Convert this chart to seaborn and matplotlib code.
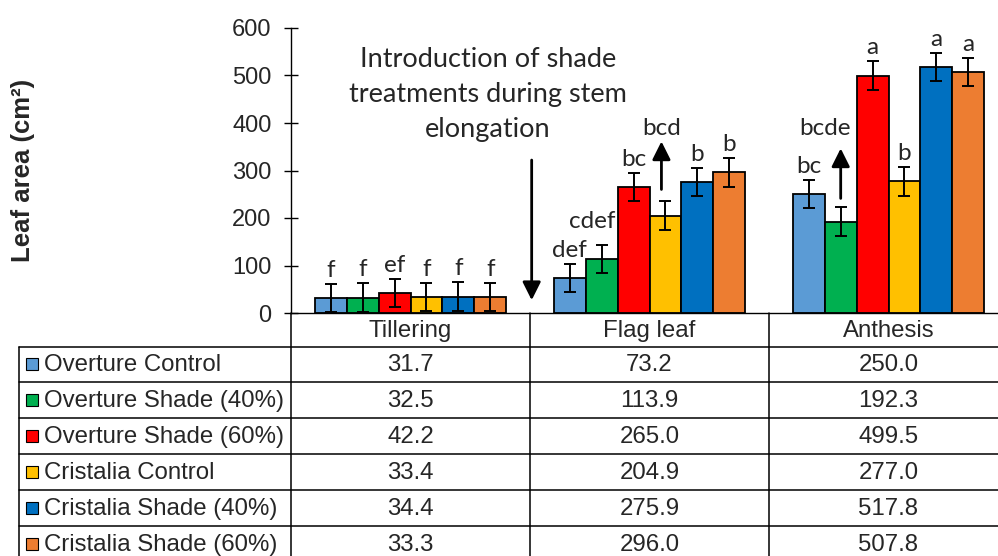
import numpy as np
import pandas as pd
import matplotlib
matplotlib.use("Agg")
import matplotlib.pyplot as plt
import matplotlib.transforms as mtransforms
from matplotlib.patches import Rectangle
import seaborn as sns

# ---------------- data ----------------
stages = ["Tillering", "Flag leaf", "Anthesis"]
treatments = ["Overture Control", "Overture Shade (40%)", "Overture Shade (60%)",
              "Cristalia Control", "Cristalia Shade (40%)", "Cristalia Shade (60%)"]
overture_control = [31.7, 73.2, 250.0]
overture_shade40 = [32.5, 113.9, 192.3]
overture_shade60 = [42.2, 265.0, 499.5]
cristalia_control = [33.4, 204.9, 277.0]
cristalia_shade40 = [34.4, 275.9, 517.8]
cristalia_shade60 = [33.3, 296.0, 507.8]
err_overture_control = [30, 30, 29]
err_overture_shade40 = [30, 30, 30]
err_overture_shade60 = [30, 30, 30]
err_cristalia_control = [30, 30, 30]
err_cristalia_shade40 = [30, 30, 30]
err_cristalia_shade60 = [30, 30, 30]
letters_tillering = ["f", "f", "ef", "f", "f", "f"]
letters_flag_leaf = ["def", "cdef", "bc", "bcd", "b", "b"]
letters_anthesis = ["bc", "bcde", "a", "b", "a", "a"]
y_ticks = [0, 100, 200, 300, 400, 500, 600]
note = "Introduction of shade\ntreatments during stem\nelongation"

values = [overture_control, overture_shade40, overture_shade60,
          cristalia_control, cristalia_shade40, cristalia_shade60]
errors = [err_overture_control, err_overture_shade40, err_overture_shade60,
          err_cristalia_control, err_cristalia_shade40, err_cristalia_shade60]
letters = [letters_tillering, letters_flag_leaf, letters_anthesis]
colors = ["#5B9BD5", "#00B050", "#FF0000", "#FFC000", "#0070C0", "#ED7D31"]

df = pd.DataFrame([
    {"stage": s, "treatment": t, "area": values[i][j]}
    for i, t in enumerate(treatments) for j, s in enumerate(stages)
])

# ---------------- style ----------------
sns.set_style("white")
plt.rcParams["font.family"] = ["Liberation Sans", "DejaVu Sans"]
LETTER_FONT = ["Lato", "DejaVu Sans"]

W, H = 998, 556
fig = plt.figure(figsize=(W / 100, H / 100), dpi=100)
AX_L, AX_R, AX_T, AX_B = 291, 1008, 28, 313
ax = fig.add_axes([AX_L / W, (H - AX_B) / H, (AX_R - AX_L) / W, (AX_B - AX_T) / H])
ax.set_facecolor("none")

sns.barplot(data=df, x="stage", y="area", hue="treatment", order=stages,
            hue_order=treatments, palette=colors, saturation=1,
            edgecolor="black", linewidth=1.3, errorbar=None, width=0.8,
            legend=False, ax=ax, zorder=3)

ax.set_xlim(-0.5, 2.5)
ax.set_ylim(0, 600)
ax.set_yticks(y_ticks)
ax.set_xticks([])
ax.set_xlabel("")
ax.set_ylabel("Leaf area (cm²)", fontsize=18.5, fontweight="bold")
ax.yaxis.label.set_va("center")
ax.yaxis.set_label_coords((23 - AX_L) / (AX_R - AX_L), 0.5)
ax.tick_params(axis="y", left=True, direction="inout", length=10, width=1.0,
               labelsize=17, pad=9, color="black")
for s in ["top", "right"]:
    ax.spines[s].set_visible(False)
for s in ["left", "bottom"]:
    ax.spines[s].set_color("black")
    ax.spines[s].set_linewidth(1.0)
ax.spines["bottom"].set_zorder(6)

n = len(treatments)
bw = 0.8 / n
for i in range(n):
    xs = np.arange(len(stages)) - 0.4 + bw / 2 + i * bw
    ax.errorbar(xs, values[i], yerr=errors[i], fmt="none", ecolor="black",
                elinewidth=1.4, capsize=4, capthick=1.4, zorder=5)


def off(dx, dy):
    return mtransforms.offset_copy(ax.transData, fig=fig, x=dx, y=dy, units="dots")


arrow_props = dict(arrowstyle="-|>,head_length=1.1,head_width=0.55",
                   mutation_scale=10, color="black", lw=2.0,
                   shrinkA=0, shrinkB=0)
arrow_labels = {(1, 3): (-4, 12, 60, -4, 66), (2, 1): (0, 9, 59, -16, 72)}
nudges = {(1, 1): (-10, 10)}

for j in range(len(stages)):
    for i in range(n):
        x = j - 0.4 + bw / 2 + i * bw
        top = values[i][j] + errors[i][j]
        lab = letters[j][i]
        if (j, i) in arrow_labels:
            dx, tail, tip, ldx, ly = arrow_labels[(j, i)]
            ax.annotate("", xy=(x, top), xycoords=off(dx, tip),
                        xytext=(x, top), textcoords=off(dx, tail),
                        arrowprops=arrow_props, zorder=6)
            ax.text(x, top, lab, transform=off(ldx, ly), ha="center",
                    va="baseline", fontsize=17.5, family=LETTER_FONT)
        else:
            ndx, ndy = nudges.get((j, i), (0, 0))
            ax.text(x, top, lab, transform=off(ndx, 7 + ndy), ha="center",
                    va="baseline", fontsize=17.5, family=LETTER_FONT)

# shade introduction note and arrow
ax.annotate("", xy=(0.507, 27), xytext=(0.507, 322), arrowprops=arrow_props)
ax.text(0.324, 459, note, ha="center", va="center", fontsize=19.5,
        family=LETTER_FONT, linespacing=1.5, multialignment="center")

# ---------------- data table ----------------
tax = fig.add_axes([0, 0, 1, 1], zorder=-1)
tax.set_xlim(0, W)
tax.set_ylim(H, 0)
tax.axis("off")

col_edges = [291, 530, 769, 1008]
row_edges = [313, 346.5, 382, 418, 454, 490, 526, 562]
lw = 1.1
for xe in col_edges[:3]:
    tax.plot([xe, xe], [row_edges[0], H + 5], color="black", lw=lw, clip_on=False)
tax.plot([19, 19], [row_edges[1], H + 5], color="black", lw=lw, clip_on=False)
for ye in row_edges[1:-1]:
    tax.plot([19, W + 5], [ye, ye], color="black", lw=lw, clip_on=False)

for k, s in enumerate(stages):
    cx = (col_edges[k] + col_edges[k + 1]) / 2
    tax.text(cx, (row_edges[0] + row_edges[1]) / 2 + 1, s, ha="center",
             va="center", fontsize=17.3)
for i, t in enumerate(treatments):
    cy = (row_edges[i + 1] + row_edges[i + 2]) / 2
    tax.add_patch(Rectangle((26.5, cy - 6), 12, 12, facecolor=colors[i],
                            edgecolor="black", lw=0.8))
    tax.text(44, cy + 1, t, ha="left", va="center", fontsize=17.3)
    for k in range(len(stages)):
        cx = (col_edges[k] + col_edges[k + 1]) / 2
        tax.text(cx, cy + 1, f"{values[i][k]:.1f}", ha="center", va="center",
                 fontsize=17.3)

fig.savefig("out.png", dpi=100)
